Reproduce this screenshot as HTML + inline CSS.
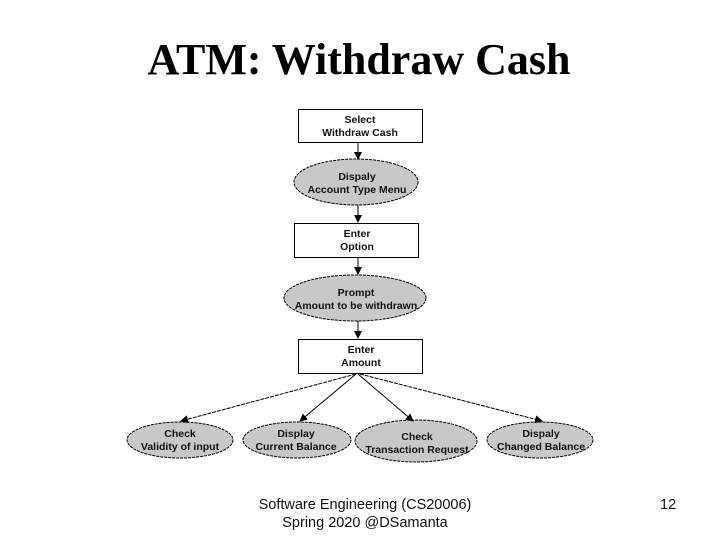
<!DOCTYPE html>
<html><head><style>
body{margin:0;background:#fff;}
svg{display:block}
</style></head><body>
<svg width="720" height="540" viewBox="0 0 720 540" xmlns="http://www.w3.org/2000/svg">
<defs><marker id="a" markerWidth="8" markerHeight="8" refX="7" refY="4" orient="auto" markerUnits="userSpaceOnUse"><path d="M0,0 L8,4 L0,8 z" fill="#000"/></marker></defs>
<text x="359" y="74" font-family="Liberation Serif, serif" font-weight="bold" font-size="44" text-anchor="middle">ATM: Withdraw Cash</text>
<g stroke="#000" stroke-width="1">
<rect x="298.5" y="109.5" width="124" height="33" fill="#fff"/>
<ellipse cx="356" cy="182" rx="62" ry="23" fill="#c8c8c8" stroke-dasharray="3,1"/>
<rect x="294.5" y="223.5" width="124" height="34" fill="#fff"/>
<ellipse cx="355" cy="298" rx="71" ry="23" fill="#c8c8c8" stroke-dasharray="3,1"/>
<rect x="298.5" y="339.5" width="124" height="34" fill="#fff"/>
<ellipse cx="180" cy="440" rx="53" ry="18" fill="#c8c8c8" stroke-dasharray="3,1"/>
<ellipse cx="297" cy="440" rx="54" ry="18" fill="#c8c8c8" stroke-dasharray="3,1"/>
<ellipse cx="416" cy="441" rx="61" ry="21" fill="#c8c8c8" stroke-dasharray="3,1"/>
<ellipse cx="540" cy="440" rx="53" ry="18" fill="#c8c8c8" stroke-dasharray="3,1"/>
<line x1="358" y1="143" x2="358" y2="159" marker-end="url(#a)"/>
<line x1="358" y1="205" x2="358" y2="222" marker-end="url(#a)"/>
<line x1="358" y1="258" x2="358" y2="274" marker-end="url(#a)"/>
<line x1="358" y1="321" x2="358" y2="338" marker-end="url(#a)"/>
<line x1="356" y1="374" x2="181" y2="421" marker-end="url(#a)" stroke-dasharray="4,1"/>
<line x1="356" y1="374" x2="300" y2="421" marker-end="url(#a)"/>
<line x1="358" y1="374" x2="413" y2="421" marker-end="url(#a)"/>
<line x1="360" y1="374" x2="542" y2="421" marker-end="url(#a)" stroke-dasharray="4,1"/>
</g>
<g font-family="Liberation Sans, sans-serif" font-weight="bold" font-size="10.5" text-anchor="middle" fill="#111">
<text x="360" y="123">Select</text><text x="360" y="136">Withdraw Cash</text>
<text x="357" y="180">Dispaly</text><text x="357" y="193">Account Type Menu</text>
<text x="357" y="237">Enter</text><text x="357" y="250">Option</text>
<text x="356" y="296">Prompt</text><text x="356" y="309">Amount to be withdrawn</text>
<text x="361" y="353">Enter</text><text x="361" y="366">Amount</text>
<text x="180" y="437">Check</text><text x="180" y="450">Validity of input</text>
<text x="296" y="437">Display</text><text x="296" y="450">Current Balance</text>
<text x="417" y="440">Check</text><text x="417" y="453">Transaction Request</text>
<text x="541" y="437">Dispaly</text><text x="541" y="450">Changed Balance</text>
</g>
<g font-family="Liberation Sans, sans-serif" font-size="14.5" fill="#111">
<text x="365" y="509" text-anchor="middle">Software Engineering (CS20006)</text>
<text x="365" y="527" text-anchor="middle">Spring 2020 @DSamanta</text>
<text x="660" y="509">12</text>
</g>
</svg>
</body></html>
